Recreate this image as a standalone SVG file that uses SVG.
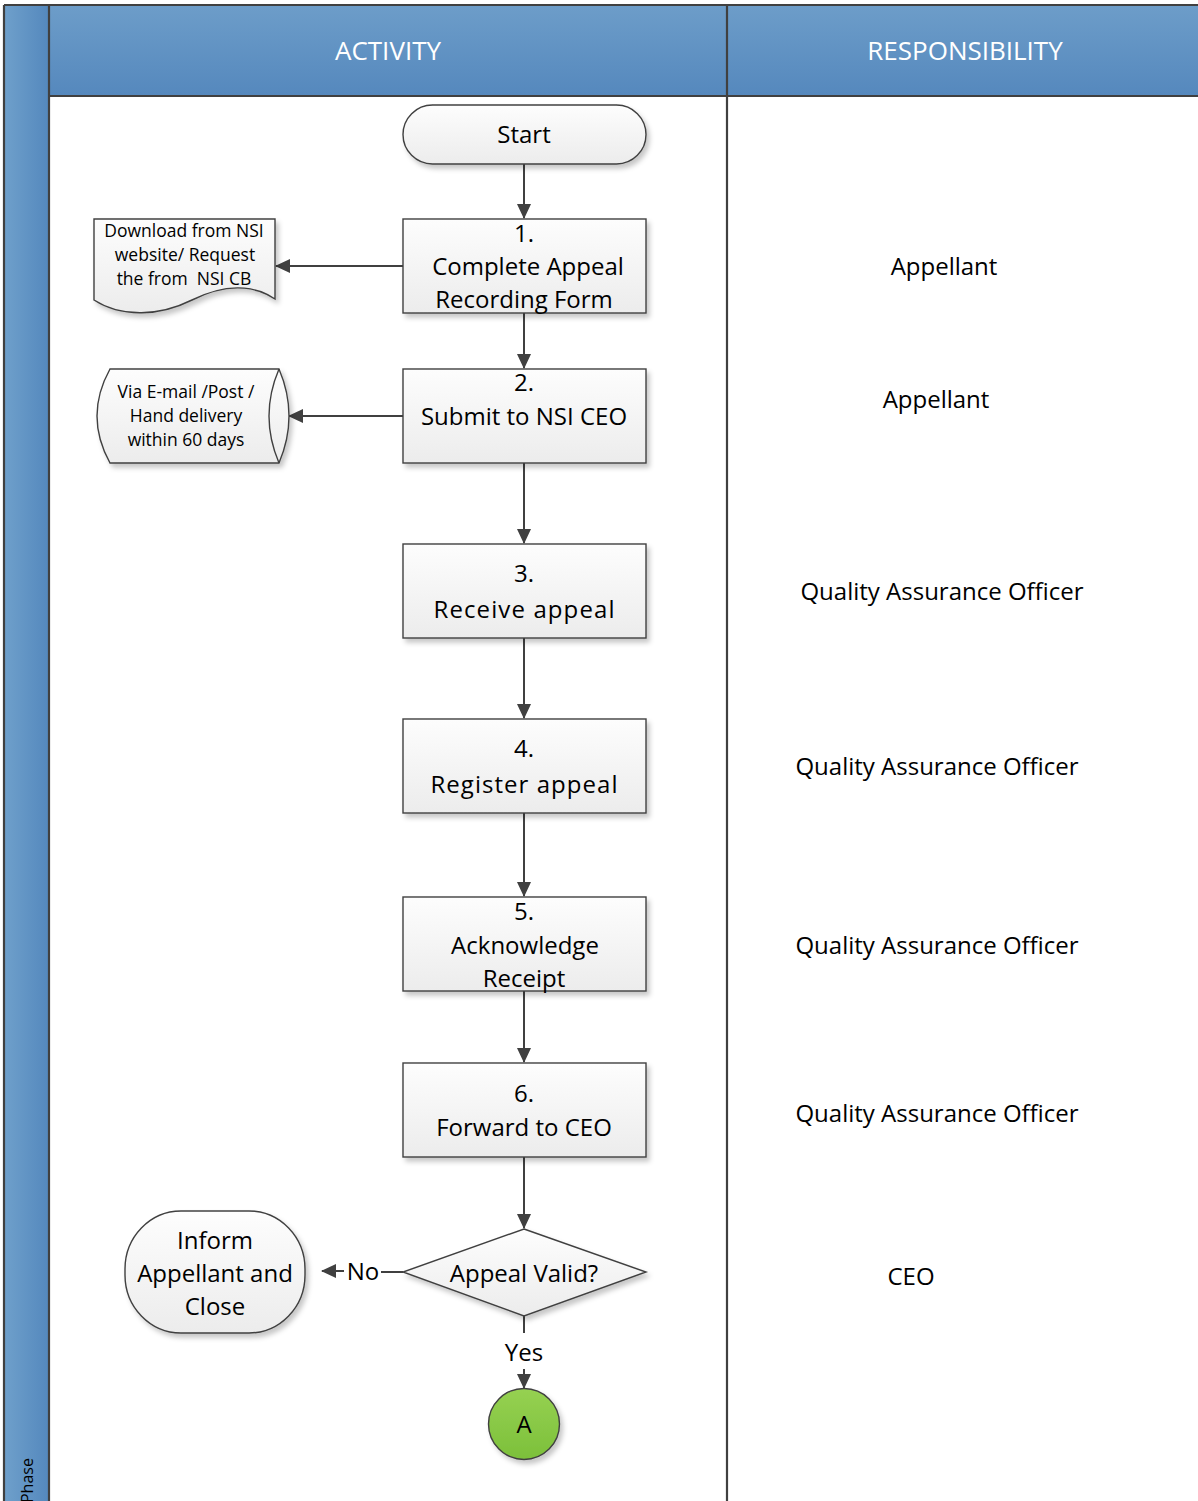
<svg xmlns="http://www.w3.org/2000/svg" width="1198" height="1501" viewBox="0 0 1198 1501">
<defs>
<linearGradient id="hdr" x1="0" y1="0" x2="0" y2="1"><stop offset="0" stop-color="#6d9dc9"/><stop offset="1" stop-color="#5588bd"/></linearGradient>
<linearGradient id="phase" x1="0" y1="0" x2="1" y2="0"><stop offset="0" stop-color="#6fa0cb"/><stop offset="1" stop-color="#5488bd"/></linearGradient>
<linearGradient id="box" x1="0" y1="0" x2="0" y2="1"><stop offset="0" stop-color="#fdfdfd"/><stop offset="1" stop-color="#ececec"/></linearGradient>
<linearGradient id="green" x1="0" y1="0" x2="0" y2="1"><stop offset="0" stop-color="#96d152"/><stop offset="1" stop-color="#7cc03a"/></linearGradient>
<filter id="sh" x="-10%" y="-10%" width="130%" height="130%"><feDropShadow dx="3" dy="4" stdDeviation="2.5" flood-color="#000" flood-opacity="0.22"/></filter>
<marker id="ah" viewBox="0 0 15 14" refX="14" refY="7" markerWidth="15" markerHeight="14" markerUnits="userSpaceOnUse" orient="auto"><path d="M0,0 L15,7 L0,14 Z" fill="#404040"/></marker>
</defs>
<style>
.shape{fill:url(#box);stroke:#404040;stroke-width:1.4;filter:url(#sh)}
.t{font-family:"Open Sans","Liberation Sans",sans-serif;font-size:24px;fill:#000;text-anchor:middle}
.s{font-family:"Open Sans","Liberation Sans",sans-serif;font-size:17.5px;fill:#000;text-anchor:middle}
.h{font-family:"Open Sans","Liberation Sans",sans-serif;font-size:26px;fill:#fff;text-anchor:middle}
.c{stroke:#404040;stroke-width:2;fill:none}
.ln{stroke:#404040;stroke-width:2.2;fill:none}
</style>
<rect width="1198" height="1501" fill="#fff"/>
<g id="lanes">
<rect x="4" y="5" width="45" height="1496" fill="url(#phase)"/>
<rect x="49" y="5" width="1149" height="91" fill="url(#hdr)"/>
<path class="ln" d="M4,5 H1198 M4,5 V1501 M49,5 V1501 M727,5 V1501 M49,96 H1198"/>
<text class="h" x="388" y="60">ACTIVITY</text>
<text class="h" x="965" y="60">RESPONSIBILITY</text>
<text font-family="Open Sans, Liberation Sans, sans-serif" font-size="16" fill="#000" transform="translate(33,1503) rotate(-90)">Phase</text>
</g>
<g id="connectors">
<path class="c" d="M524,164 V218" marker-end="url(#ah)"/>
<path class="c" d="M524,313 V368" marker-end="url(#ah)"/>
<path class="c" d="M524,463 V543" marker-end="url(#ah)"/>
<path class="c" d="M524,638 V718" marker-end="url(#ah)"/>
<path class="c" d="M524,813 V896" marker-end="url(#ah)"/>
<path class="c" d="M524,991 V1062" marker-end="url(#ah)"/>
<path class="c" d="M524,1157 V1228" marker-end="url(#ah)"/>
<path class="c" d="M403,266 H276" marker-end="url(#ah)"/>
<path class="c" d="M403,416 H289" marker-end="url(#ah)"/>
<path class="c" d="M403,1272 H381"/>
<path class="c" d="M344,1271 H322" marker-end="url(#ah)"/>
<text class="t" x="363" y="1280">No</text>
<path class="c" d="M524,1316 V1333"/>
<text class="t" x="524" y="1361">Yes</text>
<path class="c" d="M524,1369 V1388" marker-end="url(#ah)"/>
</g>
<g id="start">
<rect class="shape" x="403" y="105" width="243" height="59" rx="29.5"/>
<text class="t" x="524" y="143">Start</text>
</g>
<g id="step1">
<rect class="shape" x="403" y="219" width="243" height="94"/>
<text class="t" x="524" y="242">1.</text>
<text class="t" x="528" y="275">Complete Appeal</text>
<text class="t" x="524" y="308">Recording Form</text>
</g>
<g id="doc">
<path class="shape" d="M94,219 H275 V299 C253,284 224,284 192,300 C160,316 122,318 94,300 Z"/>
<text class="s" x="184" y="237">Download from NSI</text>
<text class="s" x="185" y="261">website/ Request</text>
<text class="s" x="184" y="285">the from&#160; NSI CB</text>
</g>
<g id="step2">
<rect class="shape" x="403" y="369" width="243" height="94"/>
<text class="t" x="524" y="391">2.</text>
<text class="t" x="524" y="425">Submit to NSI CEO</text>
</g>
<g id="direct">
<path class="shape" d="M110,369 H279 Q299,416 279,463 H110 Q84,416 110,369 Z"/>
<path class="c" style="stroke-width:1.4" d="M279,369 Q259,416 279,463"/>
<text class="s" x="186" y="398">Via E-mail /Post /</text>
<text class="s" x="186" y="422">Hand delivery</text>
<text class="s" x="186" y="446">within 60 days</text>
</g>
<g id="step3">
<rect class="shape" x="403" y="544" width="243" height="94"/>
<text class="t" x="524" y="582">3.</text>
<text class="t" x="524" y="618" textLength="181" lengthAdjust="spacing">Receive appeal</text>
</g>
<g id="step4">
<rect class="shape" x="403" y="719" width="243" height="94"/>
<text class="t" x="524" y="757">4.</text>
<text class="t" x="524" y="793" textLength="187" lengthAdjust="spacing">Register appeal</text>
</g>
<g id="step5">
<rect class="shape" x="403" y="897" width="243" height="94"/>
<text class="t" x="524" y="920">5.</text>
<text class="t" x="525" y="954">Acknowledge</text>
<text class="t" x="524" y="987">Receipt</text>
</g>
<g id="step6">
<rect class="shape" x="403" y="1063" width="243" height="94"/>
<text class="t" x="524" y="1102">6.</text>
<text class="t" x="524" y="1136">Forward to CEO</text>
</g>
<g id="decision">
<polygon class="shape" points="524,1229 646,1272 524,1316 403,1272"/>
<text class="t" x="524" y="1282">Appeal Valid?</text>
</g>
<g id="inform">
<rect class="shape" x="125" y="1211" width="180" height="122" rx="56" ry="58"/>
<text class="t" x="215" y="1249">Inform</text>
<text class="t" x="215" y="1282">Appellant and</text>
<text class="t" x="215" y="1315">Close</text>
</g>
<g id="connectorA">
<circle cx="524" cy="1424" r="35.5" fill="url(#green)" stroke="#404040" stroke-width="1.4" filter="url(#sh)"/>
<text class="t" x="524" y="1433">A</text>
</g>
<g id="responsibility">
<text class="t" x="944" y="275">Appellant</text>
<text class="t" x="936" y="408">Appellant</text>
<text class="t" x="942" y="600">Quality Assurance Officer</text>
<text class="t" x="937" y="775">Quality Assurance Officer</text>
<text class="t" x="937" y="954">Quality Assurance Officer</text>
<text class="t" x="937" y="1122">Quality Assurance Officer</text>
<text class="t" x="911" y="1285">CEO</text>
</g>
</svg>
